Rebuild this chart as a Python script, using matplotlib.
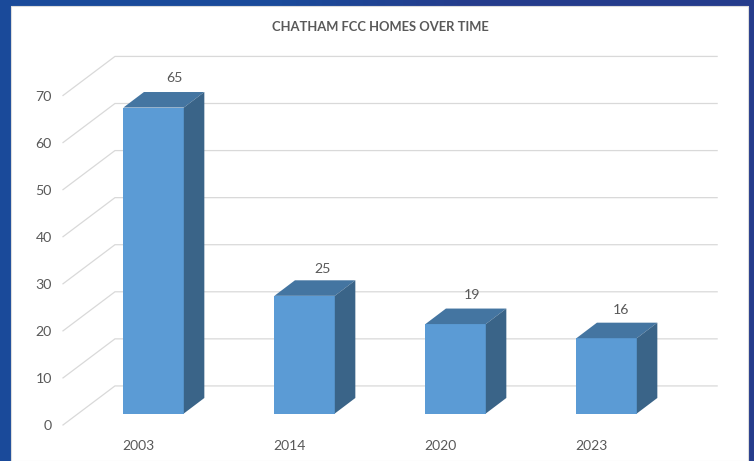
import numpy as np
import matplotlib.pyplot as plt
from matplotlib.patches import Polygon

plt.rcParams['font.family'] = ['Lato', 'DejaVu Sans']

years = ['2003', '2014', '2020', '2023']
homes = [65, 25, 19, 16]
y_ticks = [0, 10, 20, 30, 40, 50, 60, 70]

W, H = 754, 461
TEXT = '#595959'
GRID = '#d9d9d9'
FRONT = '#5b9bd5'
TOP = '#4475a1'
SIDE = '#3a6488'

# depth of the fake 3d box, in data units
wall_dx, wall_dy = 0.344, 8.3
bar_x0, bar_y0 = 0.1, 2.44
bar_dx, bar_dy = 0.136, 3.3
bar_w = 0.4

# value labels don't sit at a constant offset in the original
label_dx = [0.235, 0.22, 0.21, 0.195]
label_dy = [8.8, 8.2, 8.6, 8.5]

fig = plt.figure(figsize=(W / 100, H / 100), dpi=100)

# blue frame behind the white slide
bg = fig.add_axes([0, 0, 1, 1], zorder=0)
grad = np.array([[[26, 74, 154], [26, 74, 154], [37, 60, 140], [37, 60, 140]]],
                dtype=np.uint8)
bg.imshow(grad, extent=(0, W, H, 0), aspect='auto', interpolation='bilinear')
bg.fill_between([11, 748], 6, H, color='white', ec='#dcdcdc', lw=0.8)
bg.set_xlim(0, W)
bg.set_ylim(H, 0)
bg.axis('off')

ax = fig.add_axes([63 / W, 1 - 425 / H, 604 / W, 329.5 / H], zorder=1)
ax.patch.set_alpha(0)
ax.set_xlim(0, 4)
ax.set_ylim(0, 70)
ax.axis('off')

for v in y_ticks:
    ax.plot([0, wall_dx, 4 + wall_dx - 0.012], [v, v + wall_dy, v + wall_dy],
            color=GRID, lw=0.9, clip_on=False, zorder=1, solid_joinstyle='miter')
    ax.text(-0.075, v - 0.3, str(v), ha='right', va='center', fontsize=10.2, color=TEXT)

for i, (year, val) in enumerate(zip(years, homes)):
    x0 = i + 0.5 - bar_w / 2 + bar_x0
    x1 = x0 + bar_w
    y0 = bar_y0
    y1 = val + bar_y0
    ax.add_patch(Polygon([(x0, y0), (x1, y0), (x1, y1), (x0, y1)],
                         fc=FRONT, ec='none', clip_on=False, zorder=3))
    ax.add_patch(Polygon([(x0, y1), (x1, y1), (x1 + bar_dx, y1 + bar_dy),
                          (x0 + bar_dx, y1 + bar_dy)],
                         fc=TOP, ec='none', clip_on=False, zorder=3))
    ax.add_patch(Polygon([(x1, y0), (x1 + bar_dx, y0 + bar_dy),
                          (x1 + bar_dx, y1 + bar_dy), (x1, y1)],
                         fc=SIDE, ec='none', clip_on=False, zorder=3))
    ax.text(i + 0.5, -4.5, year, ha='center', va='center', fontsize=10, color=TEXT)
    ax.text(i + 0.5 + label_dx[i], val + label_dy[i], str(val), ha='center', va='center',
            fontsize=10.2, color=TEXT, zorder=4)

fig.text(380 / W, 1 - 27 / H, 'CHATHAM FCC HOMES OVER TIME', ha='center',
         va='center', fontsize=9.4, fontweight='bold', color=TEXT)

fig.savefig('out.png', dpi=100)
